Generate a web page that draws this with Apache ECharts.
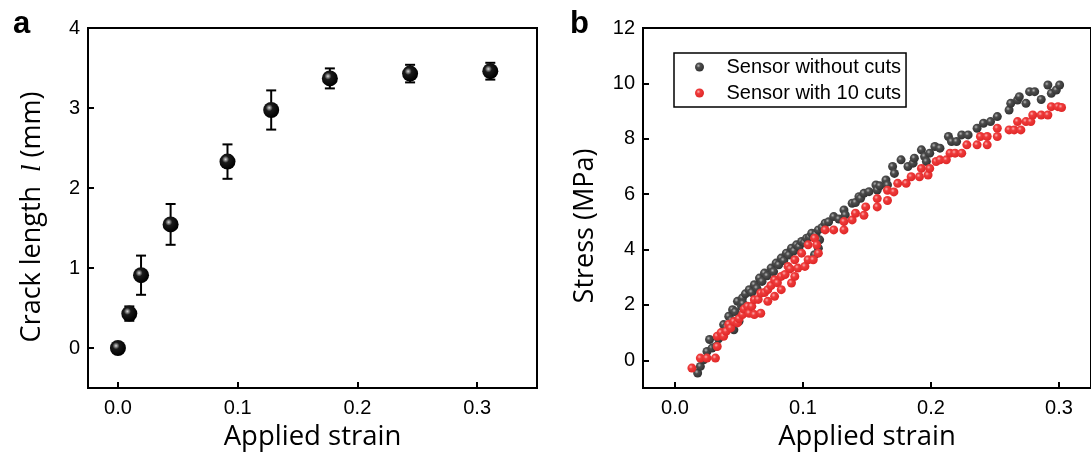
<!DOCTYPE html>
<html>
<head>
<meta charset="utf-8">
<script src="https://cdn.jsdelivr.net/npm/echarts@6/dist/echarts.min.js"></script>
<style>
  html, body { margin: 0; padding: 0; background: #fff; }
  #chart { width: 1091px; height: 463px; }
</style>
</head>
<body>
<div id="chart"></div>
<script>
// panel a: crack length vs strain
const strainA = [0.0, 0.0095, 0.0193, 0.044, 0.0915, 0.128, 0.177, 0.244, 0.311]
const lengthA = [0.0, 0.43, 0.91, 1.545, 2.33, 2.975, 3.37, 3.43, 3.46]
const errA = [0.0, 0.09, 0.245, 0.255, 0.215, 0.245, 0.125, 0.11, 0.105]

// panel b: stress-strain, sensor without cuts
const grayStrain = [0.0177, 0.0198, 0.0224, 0.025, 0.027, 0.029, 0.032, 0.034, 0.037, 0.038, 0.04, 0.042, 0.044, 0.045, 0.046, 0.047, 0.0488, 0.05, 0.052, 0.0527, 0.053, 0.055, 0.058, 0.06, 0.062, 0.064, 0.066, 0.068, 0.0699, 0.072, 0.0751, 0.077, 0.079, 0.081, 0.083, 0.085, 0.087, 0.089, 0.091, 0.093, 0.0949, 0.097, 0.0989, 0.101, 0.1028, 0.105, 0.1068, 0.109, 0.11, 0.112, 0.112, 0.113, 0.115, 0.1173, 0.12, 0.124, 0.128, 0.132, 0.133, 0.1384, 0.141, 0.1437, 0.145, 0.1476, 0.1516, 0.157, 0.158, 0.16, 0.1648, 0.166, 0.17, 0.1714, 0.1766, 0.182, 0.186, 0.187, 0.1925, 0.195, 0.1964, 0.199, 0.203, 0.207, 0.2136, 0.216, 0.22, 0.224, 0.229, 0.236, 0.241, 0.2465, 0.2518, 0.261, 0.2623, 0.2676, 0.269, 0.2742, 0.277, 0.281, 0.2861, 0.2913, 0.294, 0.2979, 0.3005]
const grayStress = [-0.46, -0.22, 0.02, 0.32, 0.75, 0.44, 0.5, 0.78, 0.93, 1.29, 1.2, 1.59, 1.45, 1.83, 1.1, 1.75, 2.13, 1.41, 1.95, 2.25, 2.05, 2.4, 2.55, 2.45, 2.73, 2.6, 2.97, 2.85, 3.15, 3.05, 3.33, 3.2, 3.51, 3.45, 3.69, 3.6, 3.87, 3.8, 4.05, 3.95, 4.17, 4.1, 4.29, 4.25, 4.41, 4.45, 4.59, 3.81, 4.55, 4.05, 4.71, 4.35, 4.8, 4.95, 5.0, 5.19, 5.1, 5.43, 5.25, 5.67, 5.7, 5.91, 5.85, 6.03, 6.09, 6.33, 6.15, 6.3, 6.51, 6.33, 7.0, 6.75, 7.24, 7.0, 7.12, 7.3, 7.6, 7.36, 7.18, 7.48, 7.72, 7.66, 8.08, 7.9, 7.9, 8.14, 8.14, 8.38, 8.56, 8.62, 8.8, 9.04, 9.28, 9.4, 9.52, 9.28, 9.7, 9.7, 9.42, 9.94, 9.64, 9.76, 9.94]

// panel b: sensor with 10 cuts
const redStrain = [0.0132, 0.0198, 0.025, 0.0316, 0.033, 0.033, 0.036, 0.038, 0.04, 0.042, 0.0435, 0.046, 0.0488, 0.05, 0.0527, 0.054, 0.0567, 0.058, 0.06, 0.062, 0.062, 0.065, 0.067, 0.067, 0.07, 0.0725, 0.0725, 0.075, 0.0778, 0.0778, 0.08, 0.083, 0.083, 0.086, 0.0883, 0.09, 0.091, 0.0936, 0.0936, 0.096, 0.0989, 0.1015, 0.104, 0.104, 0.108, 0.109, 0.1107, 0.112, 0.1173, 0.124, 0.132, 0.132, 0.1384, 0.141, 0.1476, 0.149, 0.158, 0.158, 0.166, 0.166, 0.171, 0.174, 0.1806, 0.1845, 0.191, 0.1925, 0.1977, 0.199, 0.204, 0.207, 0.212, 0.2149, 0.2188, 0.224, 0.228, 0.236, 0.2386, 0.2439, 0.2439, 0.2518, 0.2518, 0.261, 0.265, 0.2676, 0.2702, 0.2742, 0.278, 0.2795, 0.2861, 0.2913, 0.294, 0.2992, 0.302]
const redStress = [-0.28, 0.08, 0.08, 0.08, 0.5, 0.87, 1.0, 0.87, 1.05, 1.3, 1.17, 1.4, 1.35, 1.5, 1.65, 1.85, 1.95, 1.7, 1.95, 1.65, 2.19, 2.2, 1.7, 2.43, 2.45, 2.13, 2.55, 2.7, 2.31, 2.91, 2.8, 2.55, 3.03, 3.1, 3.39, 3.3, 2.79, 3.03, 3.63, 3.33, 3.87, 3.39, 3.63, 4.17, 3.63, 4.41, 4.17, 3.87, 4.71, 4.71, 4.71, 5.01, 5.07, 5.31, 5.24, 5.54, 5.54, 5.84, 5.77, 6.14, 6.08, 6.39, 6.39, 6.63, 6.63, 6.93, 6.69, 6.93, 7.18, 7.24, 7.24, 7.48, 7.48, 7.48, 7.78, 7.78, 8.08, 8.08, 7.78, 8.38, 8.08, 8.32, 8.32, 8.62, 8.32, 8.62, 8.62, 8.86, 8.86, 8.86, 9.16, 9.16, 9.13]

const xTicks = [0, 0.1, 0.2, 0.3]
const yTicksA = [0, 1, 2, 3, 4]
const yTicksB = [0, 2, 4, 6, 8, 10, 12]

const numFont = 'Liberation Sans'
const titleFont = 'Open Sans'

function sphere(edge, mid, light) {
  return new echarts.graphic.RadialGradient(0.38, 0.36, 0.62, [
    { offset: 0, color: light },
    { offset: 0.35, color: mid },
    { offset: 1, color: edge }
  ])
}

function zip(xs, ys) {
  return xs.map((x, i) => [x, ys[i]])
}

function xAxisOf(gridIndex, max) {
  return {
    gridIndex: gridIndex,
    type: 'value',
    min: -0.025,
    max: max,
    name: 'Applied strain',
    nameLocation: 'middle',
    nameGap: 35,
    nameTextStyle: { fontFamily: titleFont, fontSize: 27.5, color: '#000' },
    axisLine: { onZero: false, lineStyle: { color: '#000', width: 2 } },
    axisTick: { inside: true, length: 6, customValues: xTicks, lineStyle: { color: '#000', width: 2 } },
    axisLabel: {
      customValues: xTicks, margin: 10,
      fontFamily: numFont, fontSize: 20, color: '#000',
      formatter: v => v.toFixed(1)
    },
    splitLine: { show: false }
  }
}

function yAxisOf(gridIndex, min, max, ticks, name, gap, shift) {
  return {
    gridIndex: gridIndex,
    type: 'value',
    min: min,
    max: max,
    name: name,
    nameLocation: 'middle',
    nameGap: gap,
    nameTextStyle: {
      fontFamily: titleFont, fontSize: 27, color: '#000',
      padding: [0, shift, 0, 0],
      rich: {
        it: { fontFamily: 'Liberation Serif', fontStyle: 'italic', fontSize: 27, color: '#000' }
      }
    },
    axisLine: { onZero: false, lineStyle: { color: '#000', width: 2 } },
    axisTick: { inside: true, length: 6, customValues: ticks, lineStyle: { color: '#000', width: 2 } },
    axisLabel: { customValues: ticks, margin: 8, fontFamily: numFont, fontSize: 20, color: '#000' },
    splitLine: { show: false }
  }
}

const myChart = echarts.init(document.getElementById('chart'))
const option = {
  animation: false,
  backgroundColor: '#fff',
  title: [
    { text: 'a', left: 8, top: 4, textStyle: { fontFamily: numFont, fontWeight: 'bold', fontSize: 31, color: '#000' } },
    { text: 'b', left: 565, top: 4, textStyle: { fontFamily: numFont, fontWeight: 'bold', fontSize: 31, color: '#000' } }
  ],
  grid: [
    { left: 88, top: 28, width: 449, height: 360, show: true, borderColor: '#000', borderWidth: 2 },
    { left: 643, top: 28, width: 451, height: 360, show: true, borderColor: '#000', borderWidth: 2 }
  ],
  legend: {
    orient: 'vertical',
    left: 674,
    top: 53,
    data: ['Sensor without cuts', 'Sensor with 10 cuts'],
    itemWidth: 44,
    itemHeight: 9,
    itemGap: 6,
    padding: [4, 5, 4, 21],
    borderColor: '#000',
    borderWidth: 1.5,
    borderRadius: 0,
    backgroundColor: '#fff',
    textStyle: { fontFamily: numFont, fontSize: 20, color: '#000' }
  },
  xAxis: [xAxisOf(0, 0.35), xAxisOf(1, 0.325)],
  yAxis: [
    yAxisOf(0, -0.5, 4, yTicksA, '{n|Crack length }{it| l}{n| (mm)}', 42, 18),
    yAxisOf(1, -1, 12, yTicksB, 'Stress (MPa)', 44, 36)
  ],
  series: [
    {
      type: 'custom',
      xAxisIndex: 0,
      yAxisIndex: 0,
      z: 2,
      data: strainA.map((x, i) => [x, lengthA[i] - errA[i], lengthA[i] + errA[i]]),
      encode: { x: 0, y: [1, 2] },
      renderItem: function (params, api) {
        const top = api.coord([api.value(0), api.value(2)])
        const bot = api.coord([api.value(0), api.value(1)])
        const w = 5
        const st = { stroke: '#000', lineWidth: 2 }
        return {
          type: 'group',
          children: [
            { type: 'line', shape: { x1: top[0], y1: top[1], x2: bot[0], y2: bot[1] }, style: st },
            { type: 'line', shape: { x1: top[0] - w, y1: top[1], x2: top[0] + w, y2: top[1] }, style: st },
            { type: 'line', shape: { x1: bot[0] - w, y1: bot[1], x2: bot[0] + w, y2: bot[1] }, style: st }
          ]
        }
      }
    },
    {
      type: 'scatter',
      xAxisIndex: 0,
      yAxisIndex: 0,
      z: 3,
      symbol: 'circle',
      symbolSize: 16,
      itemStyle: { color: sphere('#000', '#1a1a1a', '#d8d8d8'), opacity: 1 },
      data: zip(strainA, lengthA)
    },
    {
      name: 'Sensor without cuts',
      type: 'scatter',
      xAxisIndex: 1,
      yAxisIndex: 1,
      symbol: 'circle',
      symbolSize: 9,
      itemStyle: { color: sphere('#333', '#4d4d4d', '#b8b8b8'), opacity: 1 },
      data: zip(grayStrain, grayStress)
    },
    {
      name: 'Sensor with 10 cuts',
      type: 'scatter',
      xAxisIndex: 1,
      yAxisIndex: 1,
      symbol: 'circle',
      symbolSize: 9,
      itemStyle: { color: sphere('#e02828', '#ef3b3b', '#fbb0b0'), opacity: 1 },
      data: zip(redStrain, redStress)
    }
  ]
}
myChart.setOption(option)
</script>
</body>
</html>
